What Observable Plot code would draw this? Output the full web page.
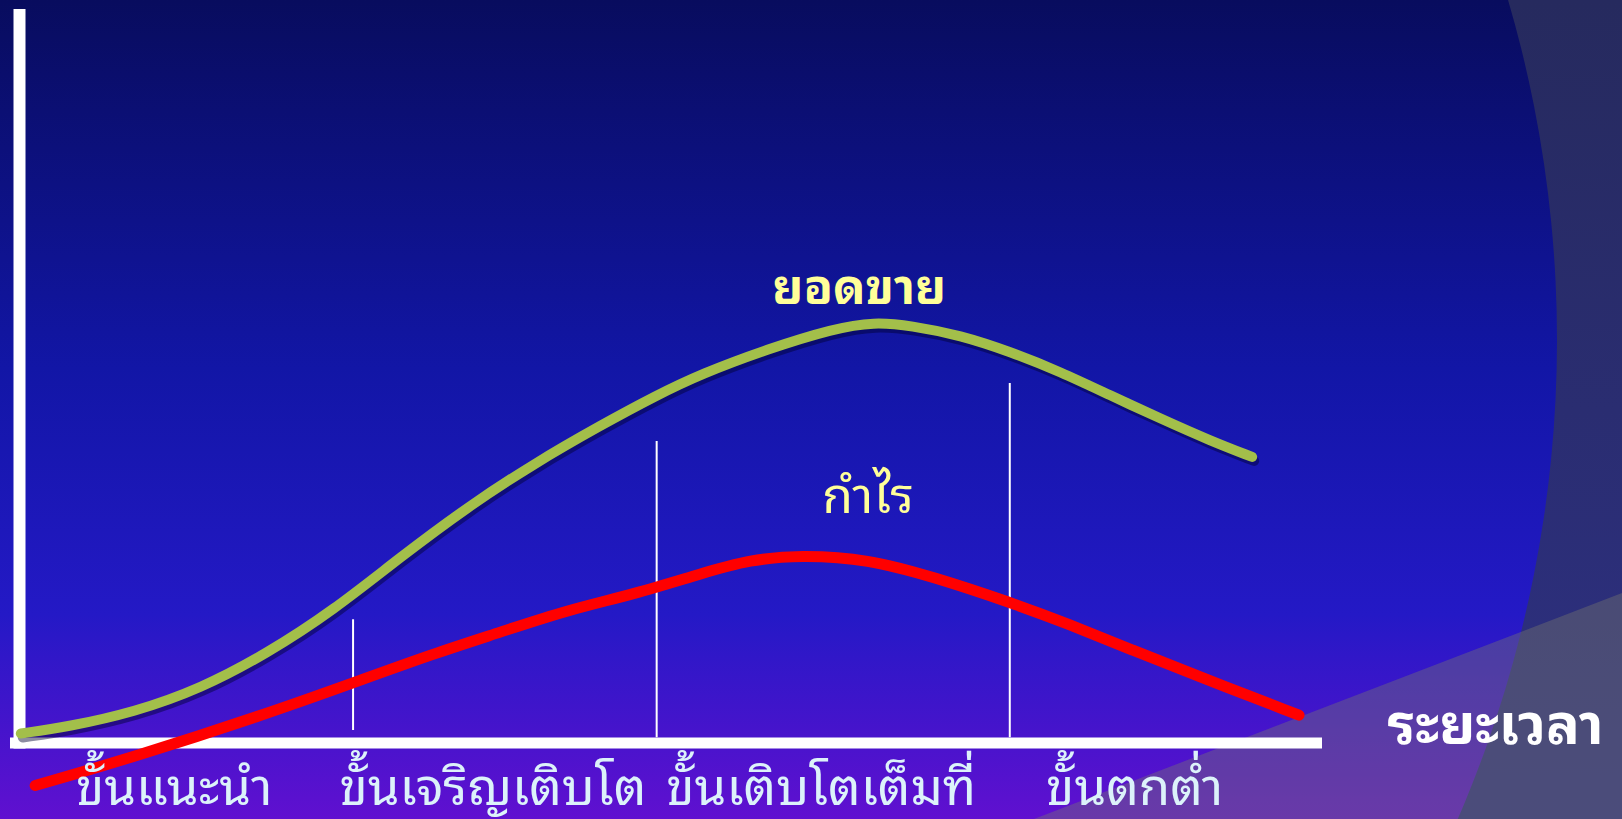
<!DOCTYPE html>
<html>
<head>
<meta charset="utf-8">
<script src="https://cdn.jsdelivr.net/npm/d3@7"></script>
<script src="https://cdn.jsdelivr.net/npm/@observablehq/plot@0.6"></script>
<style>
  html, body { margin: 0; padding: 0; width: 1622px; height: 819px; overflow: hidden; }
  #wrap { position: relative; width: 1622px; height: 819px; }
  #bg { position: absolute; left: 0; top: 0; }
  #chart { position: absolute; left: 0; top: 0; }
</style>
</head>
<body>
<div id="wrap">
  <svg id="bg" width="1622" height="819" viewBox="0 0 1622 819">
    <defs>
      <linearGradient id="g" x1="0" y1="0" x2="0" y2="1">
        <stop offset="0" stop-color="#080c5e"/>
        <stop offset="0.45" stop-color="#1216a6"/>
        <stop offset="0.75" stop-color="#2419c6"/>
        <stop offset="1" stop-color="#6010d0"/>
      </linearGradient>
      <linearGradient id="g2" x1="0" y1="0" x2="0" y2="1">
        <stop offset="0" stop-color="#262a5e"/>
        <stop offset="1" stop-color="#2e3084"/>
      </linearGradient>
      <clipPath id="outside">
        <path d="M0,0H1622V819H0Z M352,340 m-1205,0 a1205,1205 0 1,0 2410,0 a1205,1205 0 1,0 -2410,0" clip-rule="evenodd"/>
      </clipPath>
    </defs>
    <rect width="1622" height="819" fill="url(#g)"/>
    <rect width="1622" height="819" fill="url(#g2)" clip-path="url(#outside)"/>
    <path d="M1034,819 L1622,593 L1622,819 Z" fill="rgb(120,120,110)" fill-opacity="0.4"/>
  </svg>
  <div id="chart"></div>
</div>
<script>
// Product life cycle — time on x (0..100), value on y (0..100)
const salesX = [0.1, 3.7, 8.8, 13.9, 19.0, 24.1, 29.2, 34.4, 39.5, 44.6, 48.9, 52.3, 57.4, 62.5, 65.6, 68.4, 72.2, 76.1, 79.9, 83.7, 87.6, 91.4, 94.6];
const salesY = [1.3, 2.2, 4.2, 7.4, 12.2, 18.1, 25.3, 32.2, 38.1, 43.3, 47.4, 50.3, 53.7, 56.5, 57.4, 56.9, 55.6, 53.3, 50.6, 47.4, 44.2, 41.2, 39.0];
const profitX = [1.2, 8.8, 19.0, 25.6, 31.8, 36.9, 42.0, 47.2, 52.3, 56.1, 59.9, 65.1, 70.2, 76.0, 80.4, 85.5, 90.6, 98.2];
const profitY = [-5.8, -1.9, 4.0, 8.2, 12.2, 15.1, 18.1, 20.3, 23.1, 25.0, 25.6, 25.1, 22.6, 19.2, 16.3, 12.6, 9.0, 3.8];
const stageNames = ["ขั้นแนะนำ", "ขั้นเจริญเติบโต", "ขั้นเติบโตเต็มที่", "ขั้นตกต่ำ"];
const stageBounds = [0, 25.6, 48.9, 76.0, 97];
const dividerTop = [16.8, 41.1, 49.0];
const dividerBottom = [1.7, 0.7, 0.7];
const seriesNames = ["ยอดขาย", "กำไร"];
const xAxisLabel = "ระยะเวลา";

const sales = salesX.map((x, i) => ({x, y: salesY[i]}));
const profit = profitX.map((x, i) => ({x, y: profitY[i]}));
const stages = stageNames.map((name, i) => ({name, mid: (stageBounds[i] + stageBounds[i + 1]) / 2}));
const dividers = dividerTop.map((top, i) => ({x: stageBounds[i + 1], top, bottom: dividerBottom[i]}));

const thai = "'Noto Sans Thai Looped', 'Noto Sans Thai', sans-serif";

const chart = Plot.plot({
  width: 1622,
  height: 819,
  marginLeft: 19,
  marginRight: 300,
  marginTop: 9,
  marginBottom: 76.5,
  x: {domain: [0, 100], axis: null},
  y: {domain: [0, 100], axis: null},
  style: {background: "transparent", overflow: "visible"},
  marks: [
    Plot.ruleX(dividers, {x: "x", y1: "bottom", y2: "top", stroke: "white", strokeWidth: 2}),
    Plot.ruleX([0], {stroke: "white", strokeWidth: 12, insetBottom: -6}),
    Plot.ruleY([0], {stroke: "white", strokeWidth: 11, insetLeft: -9}),
    Plot.line(sales, {x: "x", y: "y", curve: "basis", stroke: "#000030", strokeOpacity: 0.45, strokeWidth: 10, dx: 2, dy: 4}),
    Plot.line(sales, {x: "x", y: "y", curve: "basis", stroke: "#a3bf4a", strokeWidth: 10}),
    Plot.line(profit, {x: "x", y: "y", curve: "basis", stroke: "#ff0000", strokeWidth: 11}),
    Plot.text(sales, Plot.selectMaxY({x: "x", y: "y", text: () => seriesNames[0], dx: -15, dy: -33,
      fill: "#ffff99", fontSize: 48, fontWeight: "bold", fontFamily: thai})),
    Plot.text(profit, Plot.selectMaxY({x: "x", y: "y", text: () => seriesNames[1], dx: 68, dy: -58,
      fill: "#ffff99", fontSize: 50, fontFamily: thai})),
    Plot.text(stages, {x: "mid", y: 0, text: "name", dx: -12, dy: 46,
      fill: "#dcf2fa", fontSize: 51, fontFamily: thai}),
    Plot.text([xAxisLabel], {frameAnchor: "bottom-right", text: d => d, dx: 173, dy: 1, textAnchor: "middle",
      fill: "white", fontSize: 56, fontWeight: "bold", fontFamily: thai})
  ]
});
document.getElementById("chart").appendChild(chart);
</script>
</body>
</html>
